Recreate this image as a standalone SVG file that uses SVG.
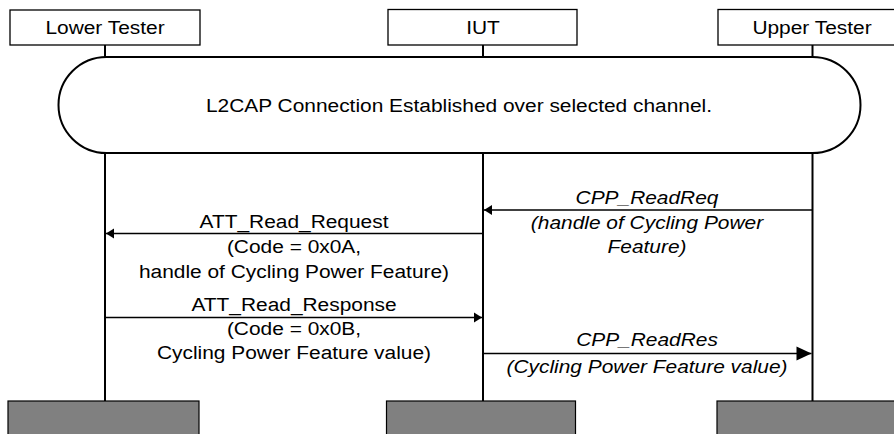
<svg xmlns="http://www.w3.org/2000/svg" width="894" height="434" viewBox="0 0 894 434">
<style>
.box{fill:#fff;stroke:#000;stroke-width:1.3}
.end{fill:#808080;stroke:#000;stroke-width:1.2}
.life{stroke:#000;stroke-width:2;fill:none}
.msg{stroke:#000;stroke-width:1.6;fill:none}
.t{font-family:"Liberation Sans",Arial,sans-serif;font-size:19px;fill:#000;text-anchor:middle}
.i{font-style:italic}
</style>
<defs>
<marker id="ah" markerUnits="userSpaceOnUse" markerWidth="10" markerHeight="12" refX="8" refY="5" orient="auto" overflow="visible">
<polygon points="0,0 8,5 0,10" fill="#000"/>
</marker>
<marker id="ahBig" markerUnits="userSpaceOnUse" markerWidth="16" markerHeight="16" refX="15" refY="7" orient="auto" overflow="visible">
<polygon points="0,0 15,7 0,14" fill="#000"/>
</marker>
</defs>
<g id="lifelines">
<line class="life" x1="105" y1="45" x2="105" y2="401"/>
<line class="life" x1="483" y1="45" x2="483" y2="401"/>
<line class="life" x1="812.5" y1="45" x2="812.5" y2="401"/>
</g>
<g id="lower-tester">
<rect class="box" x="10" y="10" width="190" height="35"/>
<text class="t" transform="translate(105 34) scale(1.1 1)">Lower Tester</text>
<rect class="end" x="8" y="401" width="191" height="40"/>
</g>
<g id="iut">
<rect class="box" x="388" y="9.5" width="189" height="35.5"/>
<text class="t" transform="translate(483 34) scale(1.1 1)">IUT</text>
<rect class="end" x="386.5" y="401" width="189" height="40"/>
</g>
<g id="upper-tester">
<rect class="box" x="718" y="9.5" width="190" height="35.5"/>
<text class="t" transform="translate(812 34) scale(1.1 1)">Upper Tester</text>
<rect class="end" x="717" y="401" width="190" height="40"/>
</g>
<g id="connection">
<rect x="58.5" y="57" width="802" height="96" rx="48" ry="48" fill="#fff" stroke="#000" stroke-width="2"/>
<text class="t" transform="translate(459 112) scale(1.1 1)">L2CAP Connection Established over selected channel.</text>
</g>
<g id="connectors">
<line class="msg" x1="812" y1="210" x2="484" y2="210" marker-end="url(#ah)"/>
<line class="msg" x1="483" y1="233.5" x2="106" y2="233.5" marker-end="url(#ah)"/>
<line class="msg" x1="105" y1="317.5" x2="482" y2="317.5" marker-end="url(#ah)"/>
<line class="msg" x1="483" y1="353.5" x2="811.5" y2="353.5" marker-end="url(#ahBig)"/>
</g>
<g id="labels">
<text class="t i" transform="translate(647 204) scale(1.1 1)">CPP_ReadReq</text>
<text class="t i" transform="translate(647 228.5) scale(1.1 1)">(handle of Cycling Power</text>
<text class="t i" transform="translate(647 253) scale(1.1 1)">Feature)</text>
<text class="t" transform="translate(294 227.5) scale(1.1 1)">ATT_Read_Request</text>
<text class="t" transform="translate(294 253) scale(1.1 1)">(Code = 0x0A,</text>
<text class="t" transform="translate(294 277.5) scale(1.1 1)">handle of Cycling Power Feature)</text>
<text class="t" transform="translate(294 310.5) scale(1.1 1)">ATT_Read_Response</text>
<text class="t" transform="translate(294 334.5) scale(1.1 1)">(Code = 0x0B,</text>
<text class="t" transform="translate(294 358.5) scale(1.1 1)">Cycling Power Feature value)</text>
<text class="t i" transform="translate(647 346) scale(1.1 1)">CPP_ReadRes</text>
<text class="t i" transform="translate(647 372.5) scale(1.1 1)">(Cycling Power Feature value)</text>
</g>
</svg>
